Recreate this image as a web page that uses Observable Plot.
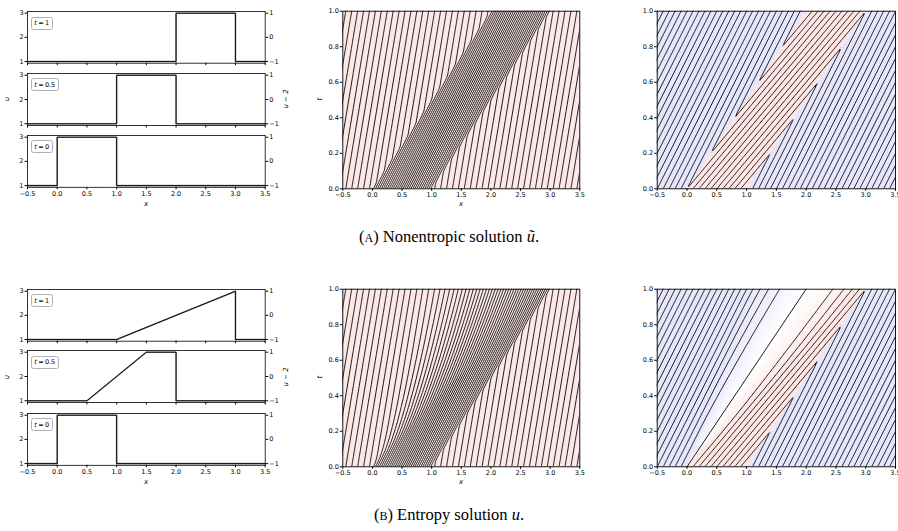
<!DOCTYPE html>
<html>
<head>
<meta charset="utf-8">
<script src="https://cdn.jsdelivr.net/npm/d3@7"></script>
<script src="https://cdn.jsdelivr.net/npm/@observablehq/plot@0.6"></script>
<style>
  body { margin: 0; background: #fff; overflow: hidden; }
  #fig { position: relative; width: 898px; height: 531px; overflow: hidden; background: #fff; }
  .lab { position: absolute; font-family: "DejaVu Sans"; font-style: oblique; font-size: 7px; color: #000; white-space: nowrap; transform: translate(-50%, -50%); }
  .rot { transform: translate(-50%, -50%) rotate(-90deg); }
  .box { position: absolute; font-family: "DejaVu Sans"; font-size: 6.5px; line-height: 8px; padding: 1.5px 2.5px; border: 0.8px solid #b0b0b0; border-radius: 2.5px; background: #fff; white-space: nowrap; }
  .box i { font-style: oblique; }
  .cap { position: absolute; left: 0; width: 898px; text-align: center; font-family: "Liberation Serif"; font-size: 16.5px; color: #000; white-space: nowrap; }
  .sc { font-variant: small-caps; }
</style>
</head>
<body>
<div id="fig"></div>
<script>
// ---------------- data ----------------
const xTicks = [-0.5, 0, 0.5, 1, 1.5, 2, 2.5, 3, 3.5];
const uTicks = [1, 2, 3];
const tTicks = [0, 0.2, 0.4, 0.6, 0.8, 1];
const snapshotLabels = ["1", "0.5", "0"];

// states and initial data: u = 3 on [0, 1], u = 1 elsewhere
const uLow = 1;
const uHigh = 3;
const bandStart = [0, 1];
const shockSpeed = 2;      // speed of both edges of the band (nonentropic)
const shift = 2;           // right-hand panels use u - 2

// profiles u(x) at t = 1, 0.5, 0
const profileA1  = [[-0.5, 1], [2, 1], [2, 3], [3, 3], [3, 1], [3.5, 1]];
const profileA05 = [[-0.5, 1], [1, 1], [1, 3], [2, 3], [2, 1], [3.5, 1]];
const profile0   = [[-0.5, 1], [0, 1], [0, 3], [1, 3], [1, 1], [3.5, 1]];
const profileB1  = [[-0.5, 1], [1, 1], [3, 3], [3, 1], [3.5, 1]];
const profileB05 = [[-0.5, 1], [0.5, 1], [1.5, 3], [2, 3], [2, 1], [3.5, 1]];

// contour levels of the characteristic potentials
const phiLevels = [-1.05, -0.95, -0.85, -0.75, -0.65, -0.55, -0.45, -0.35, -0.25, -0.15, -0.05,
  0.05, 0.15, 0.25, 0.35, 0.45, 0.55, 0.65, 0.75, 0.85, 0.95,
  1.05, 1.15, 1.25, 1.35, 1.45, 1.55, 1.65, 1.75, 1.85, 1.95,
  2.05, 2.15, 2.25, 2.35, 2.45, 2.55, 2.65, 2.75, 2.85, 2.95,
  3.05, 3.15, 3.25, 3.35, 3.45, 3.55, 3.65, 3.75, 3.85, 3.95,
  4.05, 4.15, 4.25, 4.35, 4.45, 4.55, 4.65, 4.75, 4.85, 4.95,
  5.05, 5.15, 5.25, 5.35, 5.45, 5.55];
const psiLevels = [-1.7, -1.6, -1.5, -1.4, -1.3, -1.2, -1.1, -1.0, -0.9, -0.8, -0.7, -0.6,
  -0.5, -0.4, -0.3, -0.2, -0.1, 0, 0.1, 0.2, 0.3, 0.4, 0.5, 0.6, 0.7, 0.8, 0.9,
  1.0, 1.1, 1.2, 1.3, 1.4, 1.5, 1.6, 1.7, 1.8, 1.9, 2.0, 2.1, 2.2, 2.3];

// colours
const pinkBg = "#fde8e8";
const colorRange = ["#e6e6fc", "#ffffff", "#fde6e4"];

// ---------------- solutions (piecewise) ----------------
const flux = u => u * u / 2;
const bandWidth = bandStart[1] - bandStart[0];
const jumpConst = (uHigh - uLow) * bandWidth;

function uA(x, t) {
  return (x > bandStart[0] + shockSpeed * t && x < bandStart[1] + shockSpeed * t) ? uHigh : uLow;
}
function phiA(x, t) {
  if (x < bandStart[0] + shockSpeed * t) return uLow * x - flux(uLow) * t;
  if (x < bandStart[1] + shockSpeed * t) return uHigh * x - flux(uHigh) * t;
  return uLow * x - flux(uLow) * t + jumpConst;
}
function uB(x, t) {
  const tt = Math.max(t, 1e-9);
  if (x < uLow * tt) return uLow;
  if (x < uHigh * tt) return x / tt;
  if (x < bandStart[1] + shockSpeed * t) return uHigh;
  return uLow;
}
function phiB(x, t) {
  const tt = Math.max(t, 1e-9);
  if (x < uLow * tt) return uLow * x - flux(uLow) * t;
  if (x < uHigh * tt) return x * x / (2 * tt);
  if (x < bandStart[1] + shockSpeed * t) return uHigh * x - flux(uHigh) * t;
  return uLow * x - flux(uLow) * t + jumpConst;
}
const psiA = (x, t) => phiA(x, t) - shift * x + flux(shift) * t;
const psiB = (x, t) => phiB(x, t) - shift * x + flux(shift) * t;
const sonicLine = [[0, 0], [shift, 1]];   // u = 2 characteristic of the fan

// ---------------- drawing ----------------
const fig = document.getElementById("fig");
const style = {fontFamily: "DejaVu Sans", fontSize: "6.5px", background: "transparent", overflow: "visible", color: "black"};
const fmt1 = d => (d < 0 ? "\u2212" : "") + Math.abs(d).toFixed(1);
const fmt0 = d => (d < 0 ? "\u2212" : "") + Math.abs(d).toFixed(0);

function put(el, left, top) {
  el.style.position = "absolute"; el.style.left = left + "px"; el.style.top = top + "px"; fig.appendChild(el);
}
function label(html, x, y, rotate) {
  const d = document.createElement("div");
  d.className = "lab" + (rotate ? " rot" : "");
  d.innerHTML = html; d.style.left = x + "px"; d.style.top = y + "px"; fig.appendChild(d);
}

const LF = {left: 27, right: 264.7};
const subFrames = [[11, 62.7], [72.7, 124.7], [134.9, 186.7]];

function profilePlot(data, frameTop, frameBottom, showX, tLabel, dy) {
  const mt = 4, mb = showX ? 16 : 5;
  const svg = Plot.plot({
    width: 290, height: (frameBottom - frameTop) + mt + mb,
    marginLeft: LF.left, marginRight: 290 - LF.right, marginTop: mt, marginBottom: mb,
    style, x: {domain: [-0.5, 3.5]}, y: {domain: [0.93, 3.07]},
    marks: [
      Plot.line(data, {x: d => d[0], y: d => d[1], stroke: "#8a8a8a", strokeWidth: 1.6}),
      Plot.line(data, {x: d => d[0], y: d => d[1], stroke: "black", strokeWidth: 0.9}),
      Plot.frame({stroke: "black", strokeWidth: 0.8}),
      Plot.axisX({ticks: xTicks, tickSize: 2.5, tickPadding: 1.5, tickFormat: showX ? fmt1 : () => "", label: null}),
      Plot.axisY({anchor: "left", ticks: uTicks, tickSize: 2.5, tickPadding: 1.5, tickFormat: fmt0, label: null}),
      Plot.axisY({anchor: "right", ticks: uTicks, tickSize: 2.5, tickPadding: 1.5, tickFormat: d => fmt0(d - shift), label: null})
    ]
  });
  put(svg, 0, frameTop - mt + dy);
  const b = document.createElement("div");
  b.className = "box"; b.innerHTML = "<i>t</i>\u2009=\u2009" + tLabel;
  put(b, LF.left + 3.8, frameTop + 5.5 + dy);
}

function charPlot(kind, sol, valueFn, levels, dy, extra) {
  const left = kind === "mid" ? 290 : 600;
  const width = kind === "mid" ? 300 : 298;
  const frameL = kind === "mid" ? 342.3 : 656.7;
  const frameR = kind === "mid" ? 579.3 : 895;
  const top = 10.7, bottom = 188.3, H = 215;
  const marks = [];
  if (kind === "mid") marks.push(Plot.frame({fill: pinkBg, stroke: "none"}));
  else marks.push(Plot.raster({x1: -0.5, x2: 3.5, y1: 0, y2: 1, fill: (x, t) => sol(x, t) - shift, pixelSize: 1}));
  marks.push(
    Plot.contour({x1: -0.6, x2: 3.6, y1: -0.05, y2: 1.05, value: valueFn, thresholds: levels,
      stroke: "black", strokeWidth: 0.9, fill: "none", clip: true, pixelSize: 1}),
    ...extra,
    Plot.frame({stroke: "black", strokeWidth: 0.9}),
    Plot.axisX({ticks: xTicks, tickSize: 2.5, tickPadding: 1.5, tickFormat: fmt1, label: null}),
    Plot.axisY({ticks: tTicks, tickSize: 2.5, tickPadding: 1.5, tickFormat: fmt1, label: null})
  );
  const svg = Plot.plot({
    width, height: H,
    marginLeft: frameL - left, marginRight: left + width - frameR, marginTop: top, marginBottom: H - bottom,
    style, x: {domain: [-0.5, 3.5]}, y: {domain: [0, 1]},
    color: {type: "linear", domain: [-1, 0, 1], range: colorRange},
    marks
  });
  put(svg, left, dy);
}

const rows = [
  {dy: 0, profiles: [profileA1, profileA05, profile0], sol: uA, phi: phiA, psi: psiA, extra: [],
   caption: '(<span class="sc">a</span>) Nonentropic solution <i>\u0169</i>.'},
  {dy: 277.6, profiles: [profileB1, profileB05, profile0], sol: uB, phi: phiB, psi: psiB,
   extra: [Plot.line(sonicLine, {x: d => d[0], y: d => d[1], stroke: "black", strokeWidth: 0.9})],
   caption: '(<span class="sc">b</span>) Entropy solution <i>u</i>.'}
];

rows.forEach(row => {
  row.profiles.forEach((p, i) => profilePlot(p, subFrames[i][0], subFrames[i][1], i === 2, snapshotLabels[i], row.dy));
  charPlot("mid", row.sol, row.phi, phiLevels, row.dy, []);
  charPlot("right", row.sol, row.psi, psiLevels, row.dy, row.extra);
  label("u", 7, 99 + row.dy, true);
  label("u \u2212 2", 286, 99 + row.dy, true);
  label("t", 320, 99 + row.dy, true);
  label("x", 146, 204 + row.dy, false);
  label("x", 461, 204 + row.dy, false);
  const c = document.createElement("div");
  c.className = "cap"; c.innerHTML = row.caption; c.style.top = (227 + row.dy) + "px";
  fig.appendChild(c);
});
</script>
</body>
</html>
